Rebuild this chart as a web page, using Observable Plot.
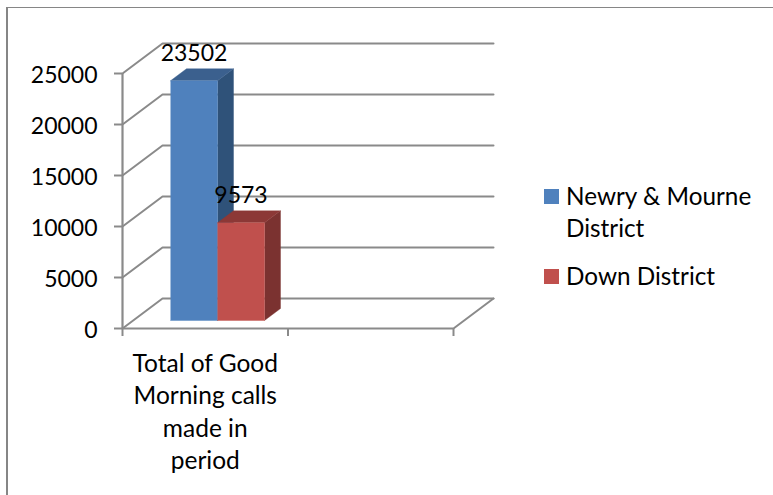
<!DOCTYPE html>
<html>
<head>
<meta charset="utf-8">
<script src="https://cdn.jsdelivr.net/npm/d3@7"></script>
<script src="https://cdn.jsdelivr.net/npm/@observablehq/plot@0.6"></script>
<style>
  html, body { margin: 0; padding: 0; background: #fff; }
  #chart { position: relative; width: 773px; height: 495px; overflow: hidden; font-family: Lato, sans-serif; color: #000; }
  #frame { position: absolute; left: 6px; top: 7px; right: -4px; bottom: -4px; border-left: 2px solid #868686; border-top: 1.5px solid #868686; }
  #chart svg { position: absolute; left: 0; top: 0; }
  .sw { position: absolute; width: 15px; height: 15px; }
  .lb { position: absolute; left: 566px; font-size: 24.3px; line-height: 32px; white-space: nowrap; }
</style>
</head>
<body>
<div id="chart"><div id="frame"></div></div>
<script>
const category = "Total of Good\nMorning calls\nmade in\nperiod";
const seriesNames = ["Newry & Mourne District", "Down District"];
const seriesValues = [23502, 9573];
const yTicks = [0, 5000, 10000, 15000, 20000, 25000];
const catTicks = [0, 1, 2];
const frontColors = ["#4F81BD", "#C0504D"];
const sideColors = ["#2F5279", "#7B3230"];
const topColors = ["#3B608E", "#8C3836"];
const gridColor = "#8A8A8A";

// oblique projection of the 3D box: depth 0 = front plane, 1 = back wall
const depthX = 40 / 165.5, depthY = 30 / 255 * 25000;
const P = (c, v, d) => ({x: c + d * depthX, y: v + d * depthY});

const barStart = 0.2256, barWidth = 0.284, d0 = 8 / 30, d1 = 20 / 30;

const wallLines = yTicks.map(v =>
  Plot.line([P(0, v, 0), P(0, v, 1), P(2, v, 1)], {x: "x", y: "y", stroke: gridColor, strokeWidth: 2})
);
const floor = Plot.line([P(0, 0, 0), P(2, 0, 0), P(2, 0, 1)], {x: "x", y: "y", stroke: gridColor, strokeWidth: 2});

const face = (pts, fill) => Plot.line(pts, {x: "x", y: "y", fill, stroke: fill, strokeWidth: 0.4});
const bars = seriesValues.flatMap((v, i) => {
  const a = barStart + i * barWidth, b = a + barWidth;
  return [
    face([P(b, 0, d0), P(b, 0, d1), P(b, v, d1), P(b, v, d0)], sideColors[i]),
    face([P(a, v, d0), P(a, v, d1), P(b, v, d1), P(b, v, d0)], topColors[i]),
    face([P(a, 0, d0), P(b, 0, d0), P(b, v, d0), P(a, v, d0)], frontColors[i])
  ];
});

const labels = seriesValues.map((v, i) => {
  const p = P(barStart + (i + 0.5) * barWidth, v, d0);
  return {x: p.x, y: p.y, t: String(v)};
});

const plot = Plot.plot({
  width: 773,
  height: 495,
  marginLeft: 122,
  marginRight: 320,
  marginTop: 73,
  marginBottom: 167,
  style: {background: "transparent", overflow: "visible", fontFamily: "Lato, sans-serif"},
  x: {domain: [0, 2]},
  y: {domain: [0, 25000]},
  marks: [
    ...wallLines,
    floor,
    Plot.ruleX([0], {y1: 0, y2: 25000, stroke: gridColor, strokeWidth: 2.2}),
    Plot.axisY({ticks: yTicks, tickSize: 8, stroke: gridColor, strokeWidth: 2, tickFormat: () => "", label: null}),
    Plot.axisY({ticks: yTicks, tickSize: 0, tickPadding: 25, dy: 2, fill: "#000", fontSize: 23, tickFormat: d => String(d), label: null}),
    Plot.axisX({ticks: catTicks, tickSize: 8, stroke: gridColor, strokeWidth: 2, tickFormat: () => "", label: null}),
    ...bars,
    Plot.text(labels, {x: "x", y: "y", text: "t", dy: -27, fontSize: 23, fill: "#000"}),
    Plot.text([category], {x: () => 0.5, y: () => 0, text: d => d, lineAnchor: "top", dy: 20, lineHeight: 1.327, fontSize: 24.5, fill: "#000"})
  ]
});
const host = document.getElementById("chart");
host.appendChild(plot);

const legendTops = [189, 269];
const textTops = [180, 260];
seriesNames.forEach((name, i) => {
  const sw = document.createElement("div");
  sw.className = "sw";
  sw.style.top = legendTops[i] + "px";
  sw.style.left = "544px";
  sw.style.background = frontColors[i];
  host.appendChild(sw);
  const lb = document.createElement("div");
  lb.className = "lb";
  lb.style.top = textTops[i] + "px";
  lb.innerHTML = name === seriesNames[0] ? "Newry &amp; Mourne<br>District" : name;
  host.appendChild(lb);
});
</script>
</body>
</html>
